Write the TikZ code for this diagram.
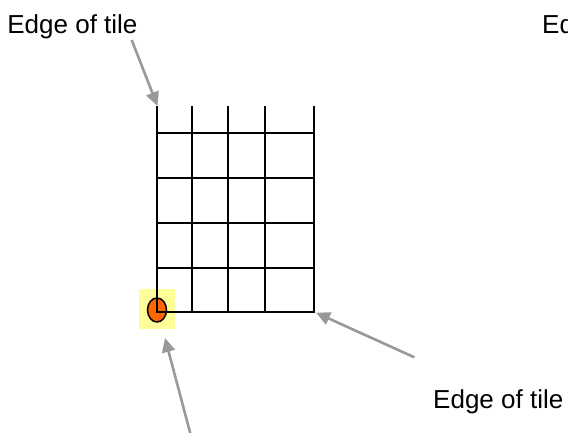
\documentclass[tikz,border=0pt]{standalone}
\usepackage{fontspec}
\setmainfont{Liberation Sans}
\usetikzlibrary{arrows.meta,shapes.geometric}
\definecolor{arrowgray}{HTML}{999999}
\definecolor{hlyellow}{HTML}{FFFF99}
\definecolor{dotorange}{HTML}{FF6600}
\tikzset{
  lbl/.style={anchor=base west,inner sep=0pt,font=\fontsize{26}{30}\selectfont},
  pointer/.style={draw=arrowgray,line width=2.6pt,-{Triangle[length=14pt,width=13pt]}},
  gridline/.style={draw=black,line width=2pt,line cap=rect}
}
\begin{document}
\begin{tikzpicture}[x=1pt,y=-1pt]
\useasboundingbox (0,0) rectangle (568,433);
\clip (0,0) rectangle (568,433);
% labels
\node[lbl] (tl) at (7.2,33.3) {Edge of tile};
\node[lbl] (tr) at (542,33.3) {Edge of tile};
\node[lbl] (br) at (433,408.3) {Edge of tile};
% highlight and origin dot
\fill[hlyellow] (139,289) rectangle (175,329);
\node[draw=black,line width=1.5pt,fill=dotorange,ellipse,minimum width=19pt,minimum height=24pt,inner sep=0pt] (dot) at (157,310) {};
% grid
\foreach \x in {156.7,192.3,228.3,265,314.3}
  \draw[gridline] (\x,106.7) -- (\x,311.7);
\foreach \y in {133.3,178.3,223.3,267.7,311.7}
  \draw[gridline] (156.7,\y) -- (314.3,\y);
% arrow coordinates
\coordinate (a1s) at (131.7,40);
\coordinate (a1e) at (157.5,106);
\coordinate (a2s) at (414.3,357.3);
\coordinate (a2e) at (316,312.7);
\coordinate (a3s) at (191,436);
\coordinate (a3e) at (165,338);
\draw[pointer] (a1s) -- (a1e);
\draw[pointer] (a2s) -- (a2e);
\draw[pointer] (a3s) -- (a3e);
\end{tikzpicture}
\end{document}
